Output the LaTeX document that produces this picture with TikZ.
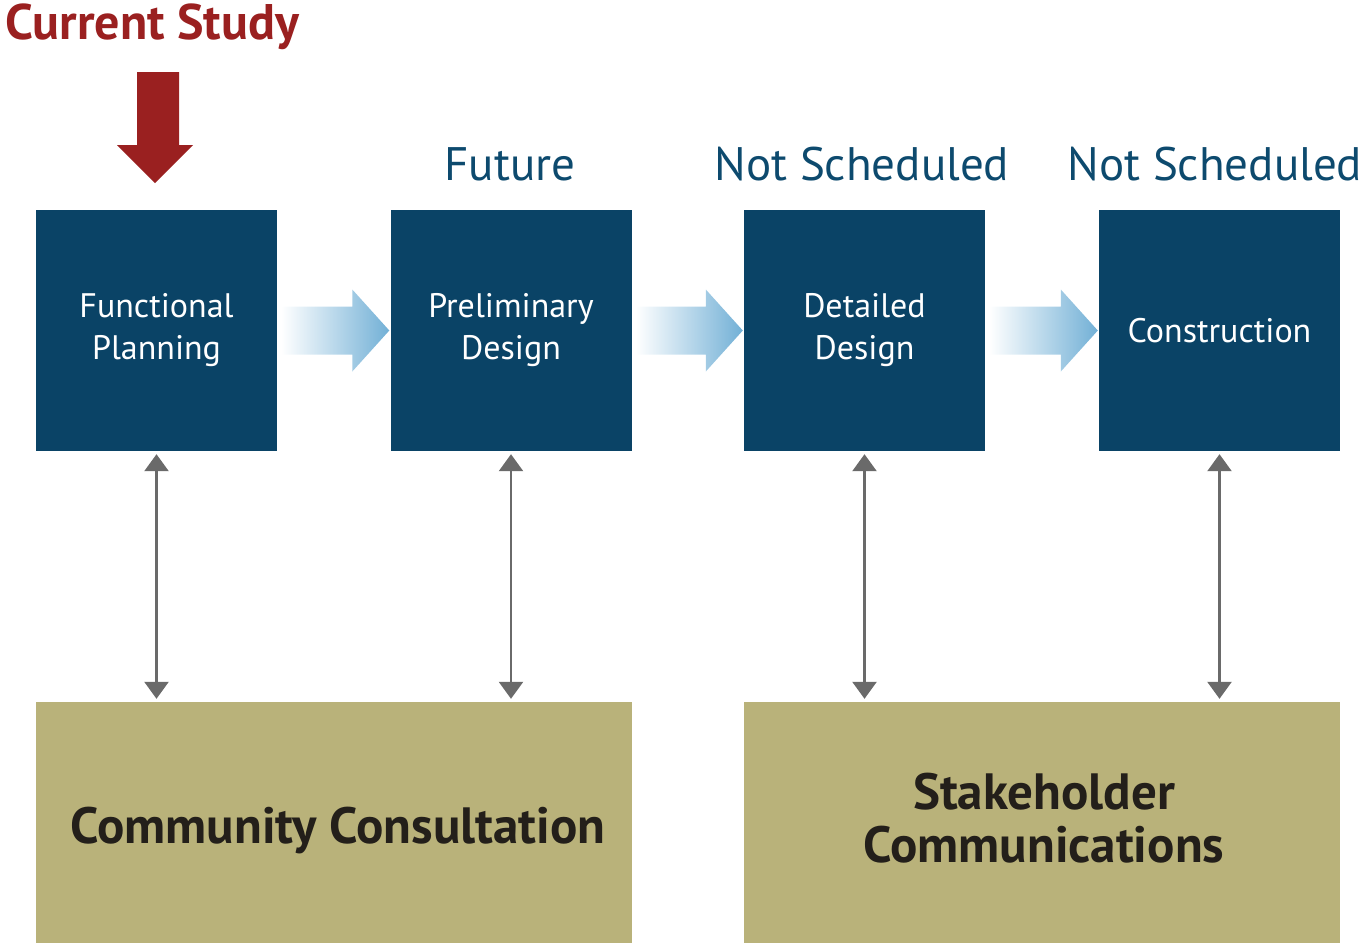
\documentclass[tikz,border=0pt]{standalone}
\usepackage{fontspec}
\setmainfont{PT Sans}
\usetikzlibrary{arrows.meta,calc}
\definecolor{boxblue}{HTML}{0A4366}
\definecolor{headblue}{HTML}{0D4A6E}
\definecolor{olive}{HTML}{B9B27A}
\definecolor{darkred}{HTML}{9A2020}
\definecolor{arrblue}{HTML}{72B0D6}
\definecolor{arrgray}{HTML}{6A6A6A}
\definecolor{textdark}{HTML}{231F1A}
\begin{document}
\begin{tikzpicture}[x=1pt,y=-1pt,
  stage/.style={rectangle,fill=boxblue,minimum width=241pt,minimum height=241pt,inner sep=0pt,
    text=white,align=center,font=\fontsize{34}{42}\selectfont},
  comm/.style={rectangle,fill=olive,minimum width=596pt,minimum height=241pt,inner sep=0pt},
  commtext/.style={text=textdark,font=\bfseries\fontsize{51}{53}\selectfont,inner sep=0pt,anchor=base,align=center},
  head/.style={text=headblue,font=\fontsize{47}{50}\selectfont,inner sep=0pt},
  link/.style={draw=arrgray,line width=2.5pt,{Triangle[width=24pt,length=17pt]}-{Triangle[width=24pt,length=17pt]}}
]
\useasboundingbox (0,0) rectangle (1366,946);
% stage boxes
\node[stage] (fp) at (156.5,330.5) {Functional\\Planning};
\node[stage] (pd) at (511,330.5) {Preliminary\\Design};
\node[stage] (dd) at (864.5,330.5) {Detailed\\Design};
\node[stage] (co) at (1219.5,330.5) {Construction};
% bottom boxes
\node[comm] (cc) at (334,822.5) {};
\node[comm] (sc) at (1042,822.5) {};
\node[commtext] (cct) at (338,843) {Community Consultation};
\node[commtext] (sct) at (1044,862) {Stakeholder\\Communications};
% headings
\node[head,anchor=base] (hf) at (510,180) {Future};
\node[head,anchor=base] (hd) at (862,180) {Not Scheduled};
\node[head,anchor=base] (hc) at (1215,180) {Not Scheduled};
\node[text=darkred,font=\bfseries\fontsize{50}{52}\selectfont,inner sep=0pt,anchor=base west] (cs) at (5,39) {Current Study};
% red arrow
\fill[darkred] (137,72) -- (179,72) -- (179,145) -- (193,145) -- (155,183) -- (117,145) -- (137,145) -- cycle;
% gradient arrows
\foreach \a/\b in {fp/pd,dd/co,pd/dd}{
  \shade[left color=white,right color=arrblue]
    ($(\a.east)+(4,-24)$) -- ($(\b.west)+(-38,-24)$) -- ($(\b.west)+(-38,-41)$) --
    ($(\b.west)+(-1,0)$) -- ($(\b.west)+(-38,41)$) -- ($(\b.west)+(-38,24)$) --
    ($(\a.east)+(4,24)$) -- cycle;
}
% double arrows
\draw[link] ($(fp.south)+(0,3)$) -- ($(fp.south |- cc.north)+(0,-3)$);
\draw[link] ($(pd.south)+(0,3)$) -- ($(pd.south |- cc.north)+(0,-3)$);
\draw[link] ($(dd.south)+(0,3)$) -- ($(dd.south |- sc.north)+(0,-3)$);
\draw[link] ($(co.south)+(0,3)$) -- ($(co.south |- sc.north)+(0,-3)$);
\end{tikzpicture}
\end{document}
